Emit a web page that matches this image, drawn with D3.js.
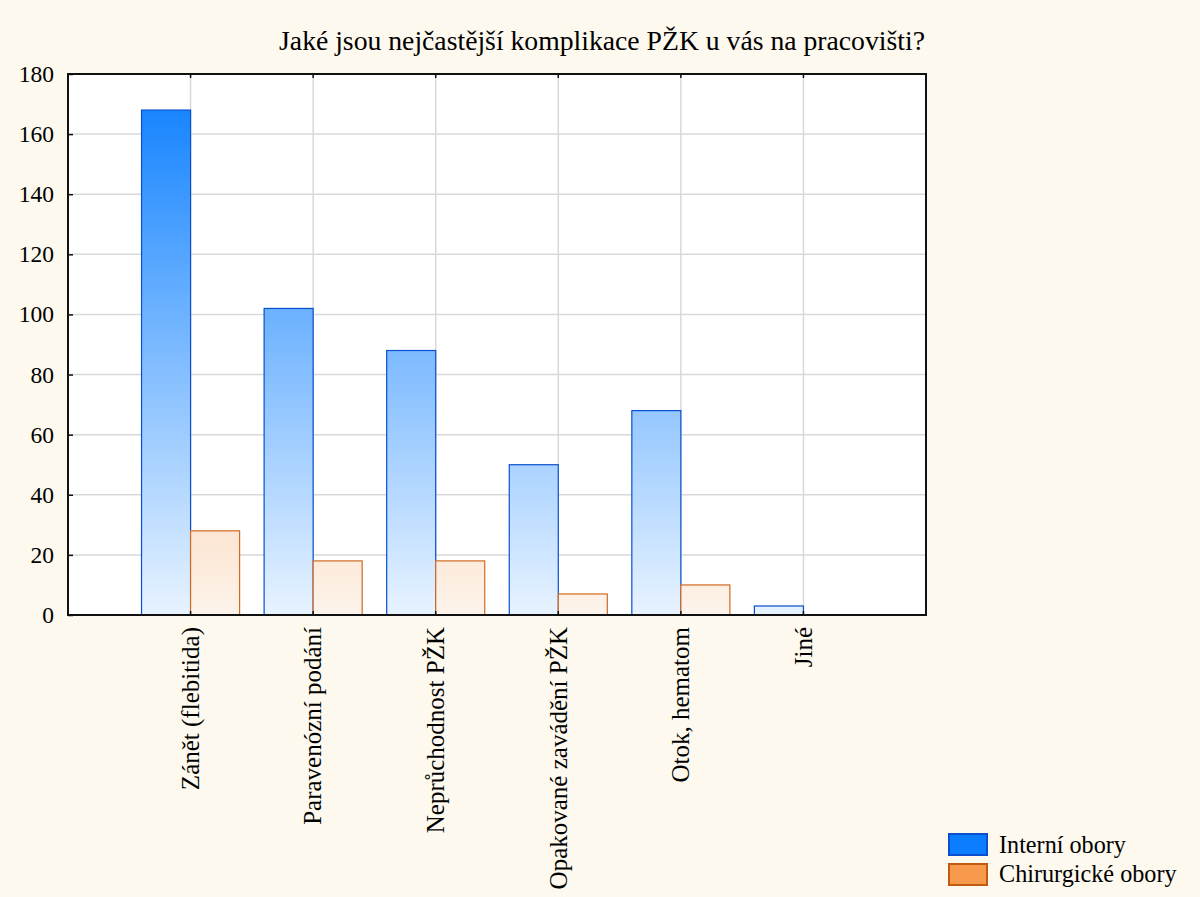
<!DOCTYPE html>
<html><head><meta charset="utf-8">
<script src="https://cdn.jsdelivr.net/npm/d3@7"></script>
<style>body{margin:0;background:#fdf9ee;}svg{display:block;}svg text{font-family:'Liberation Serif','Times New Roman',serif !important;fill:#000;}</style>
</head><body>
<script>
const categories = ["Zánět (flebitida)","Paravenózní podání","Neprůchodnost PŽK","Opakované zavádění PŽK","Otok, hematom","Jiné"];
const interni = [168,102,88,50,68,3];
const chirurgicke = [28,18,18,7,10,0];
const seriesNames = ["Interní obory","Chirurgické obory"];
const yTicks = [0,20,40,60,80,100,120,140,160,180];
const title = "Jaké jsou nejčastější komplikace PŽK u vás na pracovišti?";

const W=1200,H=897;
const m={l:68,r:926,t:74,b:615};
const svg=d3.select("body").append("svg").attr("width",W).attr("height",H);
svg.append("rect").attr("width",W).attr("height",H).attr("fill","#fdf9ee");
const x=d3.scaleLinear().domain([0,categories.length+1]).range([m.l,m.r]);
const y=d3.scaleLinear().domain([0,180]).range([m.b,m.t]);
const slot=x(1)-x(0), bw=slot*0.4;

const defs=svg.append("defs");
function grad(id,top,bot){
  const g=defs.append("linearGradient").attr("id",id).attr("gradientUnits","userSpaceOnUse")
    .attr("x1",0).attr("x2",0).attr("y1",y(180)).attr("y2",y(0));
  g.append("stop").attr("offset","0").attr("stop-color",top);
  g.append("stop").attr("offset","1").attr("stop-color",bot);
}
grad("gb","#0a7eff","#e8f3ff");
grad("go","#f7913e","#fdf4ec");

svg.append("rect").attr("x",m.l).attr("y",m.t).attr("width",m.r-m.l).attr("height",m.b-m.t).attr("fill","#fff");
// grid
svg.append("g").selectAll("line").data(yTicks.slice(1,-1)).join("line")
  .attr("x1",m.l).attr("x2",m.r).attr("y1",d=>y(d)).attr("y2",d=>y(d)).attr("stroke","#d9d9d9").attr("stroke-width",1.5);
svg.append("g").selectAll("line").data(categories).join("line")
  .attr("x1",(d,i)=>x(i+1)).attr("x2",(d,i)=>x(i+1)).attr("y1",m.t).attr("y2",m.b).attr("stroke","#d9d9d9").attr("stroke-width",1.5);

// bars
const g=svg.append("g");
g.selectAll(".b").data(interni).join("rect").attr("class","b")
  .attr("x",(d,i)=>x(i+1)-bw).attr("width",bw).attr("y",d=>y(d)).attr("height",d=>y(0)-y(d))
  .attr("fill","url(#gb)").attr("stroke",d=>d>0?"#0a4fd0":"none").attr("stroke-width",1.2);
g.selectAll(".o").data(chirurgicke).join("rect").attr("class","o")
  .attr("x",(d,i)=>x(i+1)).attr("width",bw).attr("y",d=>y(d)).attr("height",d=>y(0)-y(d))
  .attr("fill","url(#go)").attr("stroke",d=>d>0?"#d06a22":"none").attr("stroke-width",1.2);

// frame
svg.append("rect").attr("x",m.l).attr("y",m.t).attr("width",m.r-m.l).attr("height",m.b-m.t)
  .attr("fill","none").attr("stroke","#111").attr("stroke-width",2);

// y axis
const ya=svg.append("g").attr("transform",`translate(${m.l},0)`)
  .call(d3.axisLeft(y).tickValues(yTicks).tickSize(-5).tickPadding(14));
ya.select(".domain").remove();
ya.selectAll("line").attr("stroke","#111").attr("stroke-width",1.5);
ya.selectAll("text").attr("font-size",23.5);
// x ticks (inside, bottom and top)
svg.append("g").selectAll("line").data(categories).join("line")
  .attr("x1",(d,i)=>x(i+1)).attr("x2",(d,i)=>x(i+1)).attr("y1",m.b).attr("y2",m.b-4).attr("stroke","#111").attr("stroke-width",1.5);
svg.append("g").selectAll("line").data(categories).join("line")
  .attr("x1",(d,i)=>x(i+1)).attr("x2",(d,i)=>x(i+1)).attr("y1",m.t).attr("y2",m.t+4).attr("stroke","#111").attr("stroke-width",1.5);
// x labels
svg.append("g").selectAll("text").data(categories).join("text")
  .attr("transform",(d,i)=>`translate(${x(i+1)},${m.b+12}) rotate(-90)`)
  .attr("text-anchor","end").attr("dy","0.33em")
  .attr("font-size",25).text(d=>d);

// title
svg.append("text").attr("x",602).attr("y",50).attr("text-anchor","middle")
  .attr("font-size",27.7).text(title);

// legend
const lg=svg.append("g");
const lc=[["#0a7eff","#0a4fd0"],["#f79a4c","#c25a10"]];
seriesNames.forEach((n,i)=>{
  lg.append("rect").attr("x",949).attr("y",834+i*30).attr("width",38).attr("height",21)
    .attr("fill",lc[i][0]).attr("stroke",lc[i][1]).attr("stroke-width",2);
  lg.append("text").attr("x",999).attr("y",853+i*29).attr("font-size",24.2).text(n);
});
</script>
</body></html>
